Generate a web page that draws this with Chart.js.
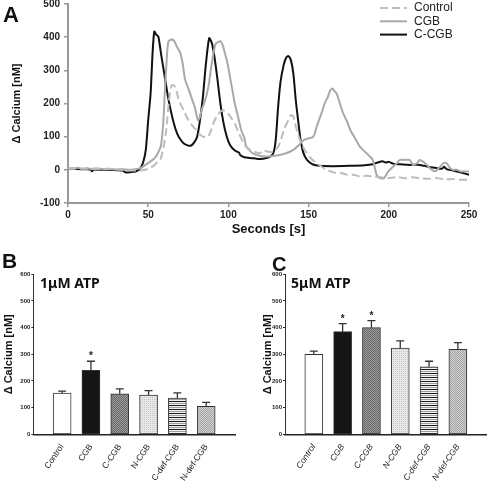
<!DOCTYPE html>
<html>
<head>
<meta charset="utf-8">
<script src="https://cdn.jsdelivr.net/npm/chart.js@4.4.1/dist/chart.umd.min.js"></script>
<style>
  html, body { margin: 0; padding: 0; background: #fff; }
  body { width: 493px; height: 483px; position: relative; overflow: hidden; font-family: "Liberation Sans", Arial, sans-serif; }
  .box { position: absolute; }
  .letter { position: absolute; font-weight: bold; line-height: 1; color: #111; }
  .cond { position: absolute; font-family: "Noto Sans", sans-serif; font-weight: bold; font-size: 14px; line-height: 1; color: #111; }
</style>
</head>
<body>
<div class="box" style="left:0;top:0;width:493px;height:245px"><canvas id="chartA"></canvas></div>
<div class="box" style="left:0;top:245px;width:245px;height:238px"><canvas id="chartB"></canvas></div>
<div class="box" style="left:245px;top:245px;width:248px;height:238px"><canvas id="chartC"></canvas></div>
<div class="letter" style="left:3px;top:4px;font-size:22px">A</div>
<div class="letter" style="left:2px;top:250px;font-size:21px">B</div>
<div class="letter" style="left:272px;top:254px;font-size:20px">C</div>
<div class="cond" style="left:40px;top:276px">1μM ATP</div>
<div class="cond" style="left:291px;top:276px">5μM ATP</div>
<script>
// panel A traces (seconds, delta calcium nM)
const controlT = [0,5,10,15,20,25,30,35,40,45,48,51,54,56,57.5,59,61,63,64.6,66,67.5,68.8,70.5,72,75,78,80,82.3,84,86.5,88,89.6,91,92.7,95,96.8,98.5,100,102,104,106,108,110,113.5,116,119.7,122,124,128,131,133,135,137.4,139,140.5,141.5,143,144.6,147,148.8,152,155,158,161,164,167.5,171,174,178,182,186,190,195,200,205,210,215,219,225,230,235,240,245,250];
const controlV = [4,5,3,4,2,3,1,0,-2,-2,0,5,15,25,30,55,110,210,255,255,240,215,195,180,150,130,120,106,100,98,105,125,145,160,175,180,175,168,155,140,115,95,75,60,55,50,60,55,55,70,95,125,150,165,160,140,115,90,65,50,32,20,10,0,-5,-10,-10,-15,-15,-20,-18,-20,-22,-25,-22,-25,-22,-25,-27,-25,-28,-28,-30,-30];

const cgbT = [0,3,6,9,12,15,18,22,26,30,34,38,42,45,48,51,54,56,58,59.5,60.5,61.5,62.5,64,66,67.8,70,71.5,73,74.5,76,77.5,79,81,82,83.3,85.5,87.5,89,90.6,92,93.5,95,96.5,97.9,99.5,101,102.5,104,106,108,110,111,113,115,117.6,120,124,128,132,136,140.5,144,147,150,153,155,158,160,162,163.5,165,166,167.5,169.5,171.6,174,176,179,182,185,187.2,190,192.4,194.5,197,199.7,202.8,205,207,210,213,215,217.5,219.5,222.6,225.7,228.8,231,232.5,234,236,238.3,240,242.4,245,250];
const cgbV = [5,3,6,3,5,2,4,2,3,1,2,0,2,5,14,24,35,50,75,150,250,330,385,392,390,372,352,320,272,252,232,210,190,150,155,180,210,250,300,350,380,385,388,375,350,320,280,240,200,160,120,95,72,60,50,45,42,40,42,45,50,60,75,90,95,100,130,170,200,220,240,245,238,230,200,170,145,120,95,70,55,45,30,-15,-25,-25,-5,10,20,30,30,30,15,20,30,20,5,-5,5,12,20,20,5,0,0,-5,-5];

const ccgbT = [0,4,8,12,14,15,16,20,25,30,34,36,39,42,44,45.5,47,48.5,50,51.5,52.7,53.8,55,56.3,58,60,62,64,66,68,70,72,75,77,79,80.5,82,84,86,88,89.5,91,93,95,97,99,101,104,106.5,107.5,110,113,117,120,123,126,128,129.5,131,132.5,134.4,136,137.4,139,140.5,142,143.7,145,146.7,149,152.7,157,165,175,185,190,193,196,198,200,203,207,212,218,222,226,230,233,234.5,236,240,245,250];
const ccgbV = [3,3,2,2,1,-4,1,0,0,-1,-2,-8,-7,-5,0,8,25,60,150,230,350,417,408,402,350,290,230,180,140,110,92,80,73,74,85,100,140,215,320,397,385,350,280,200,140,100,75,58,52,44,38,36,34,33,35,40,50,90,190,265,315,338,343,330,290,210,140,90,52,30,16,12,11,12,14,17,22,26,22,24,18,17,15,15,12,8,5,3,9,2,-2,-8,-15];

// panels B and C
const categories = ['Control', 'CGB', 'C-CGB', 'N-CGB', 'C-def-CGB', 'N-def-CGB'];
const meanB = [155, 240, 152, 147, 136, 105];
const semB = [7, 34, 18, 17, 19, 15];
const sigB = [false, true, false, false, false, false];
const meanC = [300, 385, 400, 323, 253, 319];
const semC = [12, 30, 26, 27, 21, 25];
const sigC = [false, true, true, false, false, false];

const yTicksA = { min: -100, max: 500, step: 100 };
const xTicksA = { min: 0, max: 250, step: 50 };
const yTicksBar = { min: 0, max: 600, step: 100 };

Chart.defaults.font.family = '"Liberation Sans", Arial, sans-serif';
Chart.defaults.color = '#222';

function zip(t, v) {
  return t.map((x, i) => ({ x: x, y: v[i] }));
}

function makePattern(w, h, draw) {
  const c = document.createElement('canvas');
  c.width = w; c.height = h;
  const g = c.getContext('2d');
  draw(g);
  return g.createPattern(c, 'repeat');
}

const darkCheck = makePattern(2, 2, g => {
  g.fillStyle = '#9c9c9c'; g.fillRect(0, 0, 2, 2);
  g.fillStyle = '#686868'; g.fillRect(0, 0, 1, 1); g.fillRect(1, 1, 1, 1);
});
const lightDots = makePattern(2, 2, g => {
  g.fillStyle = '#e8e8e8'; g.fillRect(0, 0, 2, 2);
  g.fillStyle = '#c4c4c4'; g.fillRect(0, 0, 1, 1);
});
const stripes = makePattern(1, 4, g => {
  g.fillStyle = '#f4f4f4'; g.fillRect(0, 0, 1, 4);
  g.fillStyle = '#1a1a1a'; g.fillRect(0, 0, 1, 1);
  g.fillStyle = '#9c9c9c'; g.fillRect(0, 2, 1, 1);
});
const midCheck = makePattern(2, 2, g => {
  g.fillStyle = '#d2d2d2'; g.fillRect(0, 0, 2, 2);
  g.fillStyle = '#a4a4a4'; g.fillRect(0, 0, 1, 1); g.fillRect(1, 1, 1, 1);
});
const barFills = [null, '#ffffff', '#151515', darkCheck, lightDots, stripes, midCheck, null];

const legendLines = {
  id: 'legendLines',
  afterDraw(chart) {
    const { ctx, chartArea } = chart;
    const x0 = chartArea.right - 89;
    chart.data.datasets.forEach((ds, i) => {
      const y = 8 + i * 13.3;
      ctx.save();
      ctx.strokeStyle = ds.borderColor;
      ctx.lineWidth = ds.borderWidth;
      ctx.setLineDash(ds.borderDash || []);
      ctx.beginPath();
      ctx.moveTo(x0, y);
      ctx.lineTo(x0 + 27, y);
      ctx.stroke();
      ctx.setLineDash([]);
      ctx.fillStyle = '#222';
      ctx.font = '12px "Liberation Sans", Arial, sans-serif';
      ctx.textBaseline = 'middle';
      ctx.fillText(ds.label, x0 + 34, y);
      ctx.restore();
    });
  }
};

const errorBars = {
  id: 'errorBars',
  afterDatasetsDraw(chart, args, opts) {
    const { ctx } = chart;
    const yScale = chart.scales.y;
    const meta = chart.getDatasetMeta(0);
    const values = chart.data.datasets[0].data;
    meta.data.forEach((bar, i) => {
      const v = values[i];
      if (v == null) return;
      const top = yScale.getPixelForValue(v + opts.err[i]);
      ctx.save();
      ctx.strokeStyle = '#333';
      ctx.lineWidth = 1.3;
      ctx.beginPath();
      ctx.moveTo(bar.x, bar.y);
      ctx.lineTo(bar.x, top);
      ctx.moveTo(bar.x - 4, top);
      ctx.lineTo(bar.x + 4, top);
      ctx.stroke();
      if (opts.sig[i]) {
        ctx.fillStyle = '#222';
        ctx.font = 'bold 10px "Liberation Sans", Arial, sans-serif';
        ctx.textAlign = 'center';
        ctx.textBaseline = 'alphabetic';
        ctx.fillText('*', bar.x, top - 2);
      }
      ctx.restore();
    });
  }
};

function fixWidth(w) {
  return s => { s.width = w; s.paddingTop = 0; s.paddingBottom = 0; };
}
function fixHeight(h) {
  return s => { s.height = h; s.paddingLeft = 0; s.paddingRight = 0; };
}

new Chart(document.getElementById('chartA'), {
  type: 'line',
  data: {
    datasets: [
      { label: 'Control', data: zip(controlT, controlV), borderColor: '#bdbdbd', borderWidth: 2, borderDash: [8, 4] },
      { label: 'CGB', data: zip(cgbT, cgbV), borderColor: '#a9a9a9', borderWidth: 2 },
      { label: 'C-CGB', data: zip(ccgbT, ccgbV), borderColor: '#111111', borderWidth: 2 }
    ]
  },
  options: {
    responsive: true,
    maintainAspectRatio: false,
    animation: false,
    layout: { padding: { top: 4, right: 24, left: 0, bottom: 0 } },
    elements: { point: { radius: 0 }, line: { tension: 0.25, fill: false } },
    plugins: { legend: { display: false }, tooltip: { enabled: false } },
    scales: {
      x: {
        type: 'linear',
        min: xTicksA.min, max: xTicksA.max,
        afterFit: fixHeight(42),
        ticks: { stepSize: xTicksA.step, autoSkip: false, maxRotation: 0, padding: 2, font: { size: 10, weight: 'bold' }, color: '#222' },
        grid: { drawOnChartArea: false, drawTicks: true, tickLength: 4, color: '#999', lineWidth: 1.5 },
        border: { color: '#999', width: 2 },
        title: { display: true, text: 'Seconds [s]', font: { size: 13, weight: 'bold' }, color: '#111', padding: { top: 0, bottom: 8 } }
      },
      y: {
        min: yTicksA.min, max: yTicksA.max,
        afterFit: fixWidth(68),
        ticks: { stepSize: yTicksA.step, padding: 4, font: { size: 10, weight: 'bold' }, color: '#222' },
        grid: { drawOnChartArea: false, drawTicks: true, tickLength: 4, color: '#999', lineWidth: 1.5 },
        border: { color: '#999', width: 2 },
        title: { display: true, text: 'Δ Calcium [nM]', font: { size: 11, weight: 'bold' }, color: '#111', padding: { top: 10, bottom: 0 } }
      }
    }
  },
  plugins: [legendLines]
});

function barChart(id, means, sems, sigs, rightPad, yWidth, titlePad, italic) {
  return new Chart(document.getElementById(id), {
    type: 'bar',
    data: {
      labels: [''].concat(categories, ['']),
      datasets: [{
        data: [null].concat(means, [null]),
        backgroundColor: barFills,
        borderColor: '#333',
        borderWidth: 1,
        borderSkipped: false,
        barThickness: 18
      }]
    },
    options: {
      responsive: true,
      maintainAspectRatio: false,
      animation: false,
      layout: { padding: { top: 29.3, right: rightPad, left: 0, bottom: 0 } },
      plugins: {
        legend: { display: false },
        tooltip: { enabled: false },
        errorBars: { err: [null].concat(sems, [null]), sig: [false].concat(sigs, [false]) }
      },
      scales: {
        x: {
          offset: false,
          afterFit: fixHeight(48.7),
          ticks: { autoSkip: false, minRotation: 56, maxRotation: 56, padding: 0, font: { size: 8.5, style: italic ? 'italic' : 'normal' }, color: '#222' },
          grid: { display: false },
          border: { color: '#222', width: 1.5 }
        },
        y: {
          min: yTicksBar.min, max: yTicksBar.max,
          afterFit: fixWidth(yWidth),
          ticks: { stepSize: yTicksBar.step, padding: 1, font: { size: 6, weight: 'bold' }, color: '#222' },
          grid: { drawOnChartArea: false, drawTicks: true, tickLength: 2, color: '#333', lineWidth: 1 },
          border: { color: '#333', width: 1 },
          title: { display: true, text: 'Δ Calcium [nM]', font: { size: 11, weight: 'bold' }, color: '#111', padding: { top: titlePad, bottom: 0 } }
        }
      }
    },
    plugins: [errorBars]
  });
}

barChart('chartB', meanB, semB, sigB, 10, 33.3, 2, false);
barChart('chartC', meanC, semC, sigC, 6.3, 40, 16.7, true);
</script>
</body>
</html>
